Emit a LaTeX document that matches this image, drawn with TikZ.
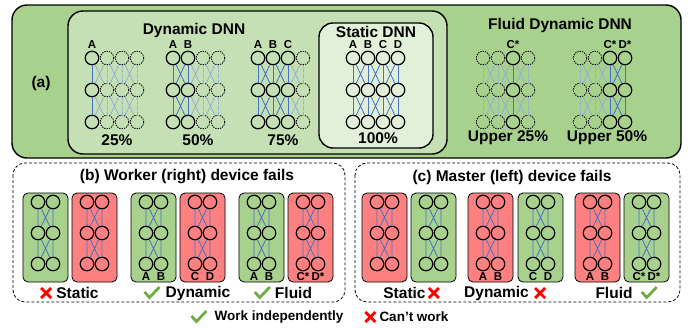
\documentclass[tikz,border=0pt]{standalone}
\usepackage{fontspec}
\setmainfont{Liberation Sans}
\usetikzlibrary{positioning}

\definecolor{panelgreen}{HTML}{A9D18E}
\definecolor{dyngreen}{HTML}{C5E0B4}
\definecolor{statgreen}{HTML}{E2F0D9}
\definecolor{failred}{HTML}{FF8080}
\definecolor{linkblue}{HTML}{4472C4}
\definecolor{fadeblue}{HTML}{8FAADC}
\definecolor{okgreen}{HTML}{70AD47}

\tikzset{
  okmark/.pic={\draw[okgreen,line width=2.8pt] (-7,-1) -- (-2,4.5) -- (8,-6);},
  nomark/.pic={\draw[red,line width=2.8pt] (-5,-5) -- (5,5) (-5,5) -- (5,-5);}
}

% 4x3 net, #1 name, #2 x of first column, columns #3..#4 are active
\newcommand\dnn[4]{%
  \foreach \c in {1,...,4}{
    \pgfmathtruncatemacro\on{and(\c>=#3,\c<=#4)}
    \foreach \r in {1,2,3}{
      \ifnum\on=1
        \node[nrn] (#1-\c-\r) at ({#2+15*(\c-1)},{58+32*(\r-1)}) {};
      \else
        \node[offnrn] (#1-\c-\r) at ({#2+15*(\c-1)},{58+32*(\r-1)}) {};
      \fi
    }
  }
  \foreach \c in {1,...,4}{
    \pgfmathtruncatemacro\on{and(\c>=#3,\c<=#4)}
    \foreach \r/\s in {1/2,2/3}{
      \ifnum\on=1 \draw[lnk] (#1-\c-\r) -- (#1-\c-\s);
      \else \draw[offvert] (#1-\c-\r) -- (#1-\c-\s); \fi
    }
  }
  \foreach \c/\d in {1/2,2/3,3/4}{
    \pgfmathtruncatemacro\on{and(\c>=#3,\d<=#4)}
    \foreach \r/\s in {1/2,2/3}{
      \ifnum\on=1 \draw[lnk] (#1-\c-\r) -- (#1-\d-\s) (#1-\d-\r) -- (#1-\c-\s);
      \else \draw[offlnk] (#1-\c-\r) -- (#1-\d-\s) (#1-\d-\r) -- (#1-\c-\s); \fi
    }
  }
}

% one device: #1 name, #2 left x, #3 fill, #4/#5 column tags
\newcommand\devpair[5]{%
  \node[devbox,fill=#3] (#1) at ({#2+22.5},237.5) {};
  \foreach \c in {1,2}
    \foreach \r in {1,2,3}
      \node[nrn] (#1-\c-\r) at ({#2+15*\c},{202+31*(\r-1)}) {};
  \foreach \r/\s in {1/2,2/3}
    \draw[lnk] (#1-1-\r) -- (#1-1-\s) (#1-2-\r) -- (#1-2-\s)
               (#1-1-\r) -- (#1-2-\s) (#1-2-\r) -- (#1-1-\s);
  \node[tag,below=0.5pt of #1-1-3] {#4};
  \node[tag,below=0.5pt of #1-2-3] {#5};
}

\begin{document}
\begin{tikzpicture}[x=1pt,y=-1pt,
  nrn/.style={circle,draw=black,line width=1.2pt,minimum size=13.5pt,inner sep=0pt},
  offnrn/.style={nrn,line width=0.9pt,dash pattern=on 1.3pt off 1.1pt},
  lnk/.style={linkblue,line width=0.8pt},
  offlnk/.style={fadeblue,line width=0.7pt},
  offvert/.style={offlnk,dash pattern=on 1.5pt off 1pt},
  panel/.style={draw,line width=1.4pt,rounded corners=15pt},
  failframe/.style={draw,line width=0.8pt,dash pattern=on 3pt off 2pt,rounded corners=12pt},
  devbox/.style={draw,line width=0.8pt,rounded corners=5pt,minimum width=45pt,minimum height=89pt,inner sep=0pt},
  tag/.style={font=\fontsize{11.5}{12}\selectfont\bfseries,inner sep=0.5pt},
  ttl/.style={font=\fontsize{15.5}{16}\selectfont\bfseries,inner sep=0pt},
  pct/.style={font=\fontsize{15.5}{16}\selectfont\bfseries,inner sep=0pt},
  legend/.style={font=\fontsize{13.5}{14}\selectfont\bfseries,inner sep=0pt}]
\useasboundingbox (0,0) rectangle (692,327);

% (a) the three kinds of DNN
\draw[panel,fill=panelgreen] (12,5) rectangle (681,158);
\draw[panel,fill=dyngreen] (68,11) rectangle (447,154);
\draw[panel,fill=statgreen,rounded corners=14pt] (319,23) rectangle (433,148);
\node[ttl] (atag) at (41,83) {(a)};
\node[ttl] (dyntitle) at (194,30) {Dynamic DNN};
\node[ttl] (stattitle) at (376,32) {Static DNN};
\node[ttl] (fluidtitle) at (560,25) {Fluid Dynamic DNN};

\dnn{dq}{92}{1}{1}
\dnn{dh}{173}{1}{2}
\dnn{dt}{258}{1}{3}
\dnn{st}{353}{1}{4}
\dnn{fq}{483}{3}{3}
\dnn{fh}{580}{3}{4}

\node[tag,above=1pt of dq-1-1] {A};
\node[tag,above=1pt of dh-1-1] {A};
\node[tag,above=1pt of dh-2-1] {B};
\node[tag,above=1pt of dt-1-1] {A};
\node[tag,above=1pt of dt-2-1] {B};
\node[tag,above=1pt of dt-3-1] {C};
\node[tag,above=1pt of st-1-1] {A};
\node[tag,above=1pt of st-2-1] {B};
\node[tag,above=1pt of st-3-1] {C};
\node[tag,above=1pt of st-4-1] {D};
\node[tag,above=1pt of fq-3-1] {C*};
\node[tag,above=1pt of fh-3-1] {C*};
\node[tag,above=1pt of fh-4-1] {D*};

\node[pct] at (117,140) {25\%};
\node[pct] at (198,140) {50\%};
\node[pct] at (283,140) {75\%};
\node[pct] at (378,138) {100\%};
\node[pct] at (508,138) {Upper 25\%};
\node[pct] at (607,138) {Upper 50\%};

% (b) worker fails
\draw[failframe] (13,163) rectangle (345,302);
\node[ttl] (btitle) at (187,177) {(b) Worker (right) device fails};
\devpair{bsa}{23}{panelgreen}{}{}
\devpair{bsb}{72}{failred}{}{}
\devpair{bda}{131}{panelgreen}{A}{B}
\devpair{bdb}{180}{failred}{C}{D}
\devpair{bfa}{239}{panelgreen}{A}{B}
\devpair{bfb}{288}{failred}{C*}{D*}
\node[pct] (bstat) at (77.5,293) {Static};
\node[pct] (bdyn) at (198,293) {Dynamic};
\node[pct] (bfluid) at (293.5,293) {Fluid};
\pic at ([xshift=-10pt]bstat.west) {nomark};
\pic at ([xshift=-14pt]bdyn.west) {okmark};
\pic at ([xshift=-13pt]bfluid.west) {okmark};

% (c) master fails
\draw[failframe] (355,163) rectangle (680,302);
\node[ttl] (ctitle) at (512,177) {(c) Master (left) device fails};
\devpair{csa}{362}{failred}{}{}
\devpair{csb}{411}{panelgreen}{}{}
\devpair{cda}{468}{failred}{A}{B}
\devpair{cdb}{518}{panelgreen}{C}{D}
\devpair{cfa}{575}{failred}{A}{B}
\devpair{cfb}{624}{panelgreen}{C*}{D*}
\node[pct] (cstat) at (404.5,293) {Static};
\node[pct] (cdyn) at (496.5,293) {Dynamic};
\node[pct] (cfluid) at (614,293) {Fluid};
\pic at ([xshift=8pt]cstat.east) {nomark};
\pic at ([xshift=11pt]cdyn.east) {nomark};
\pic at ([xshift=16pt]cfluid.east) {okmark};

% legend
\node[legend] (okleg) at (279,317) {Work independently};
\node[legend] (noleg) at (414,317) {Can’t work};
\pic at ([xshift=-16pt]okleg.west) {okmark};
\pic at ([xshift=-9pt]noleg.west) {nomark};
\end{tikzpicture}
\end{document}
